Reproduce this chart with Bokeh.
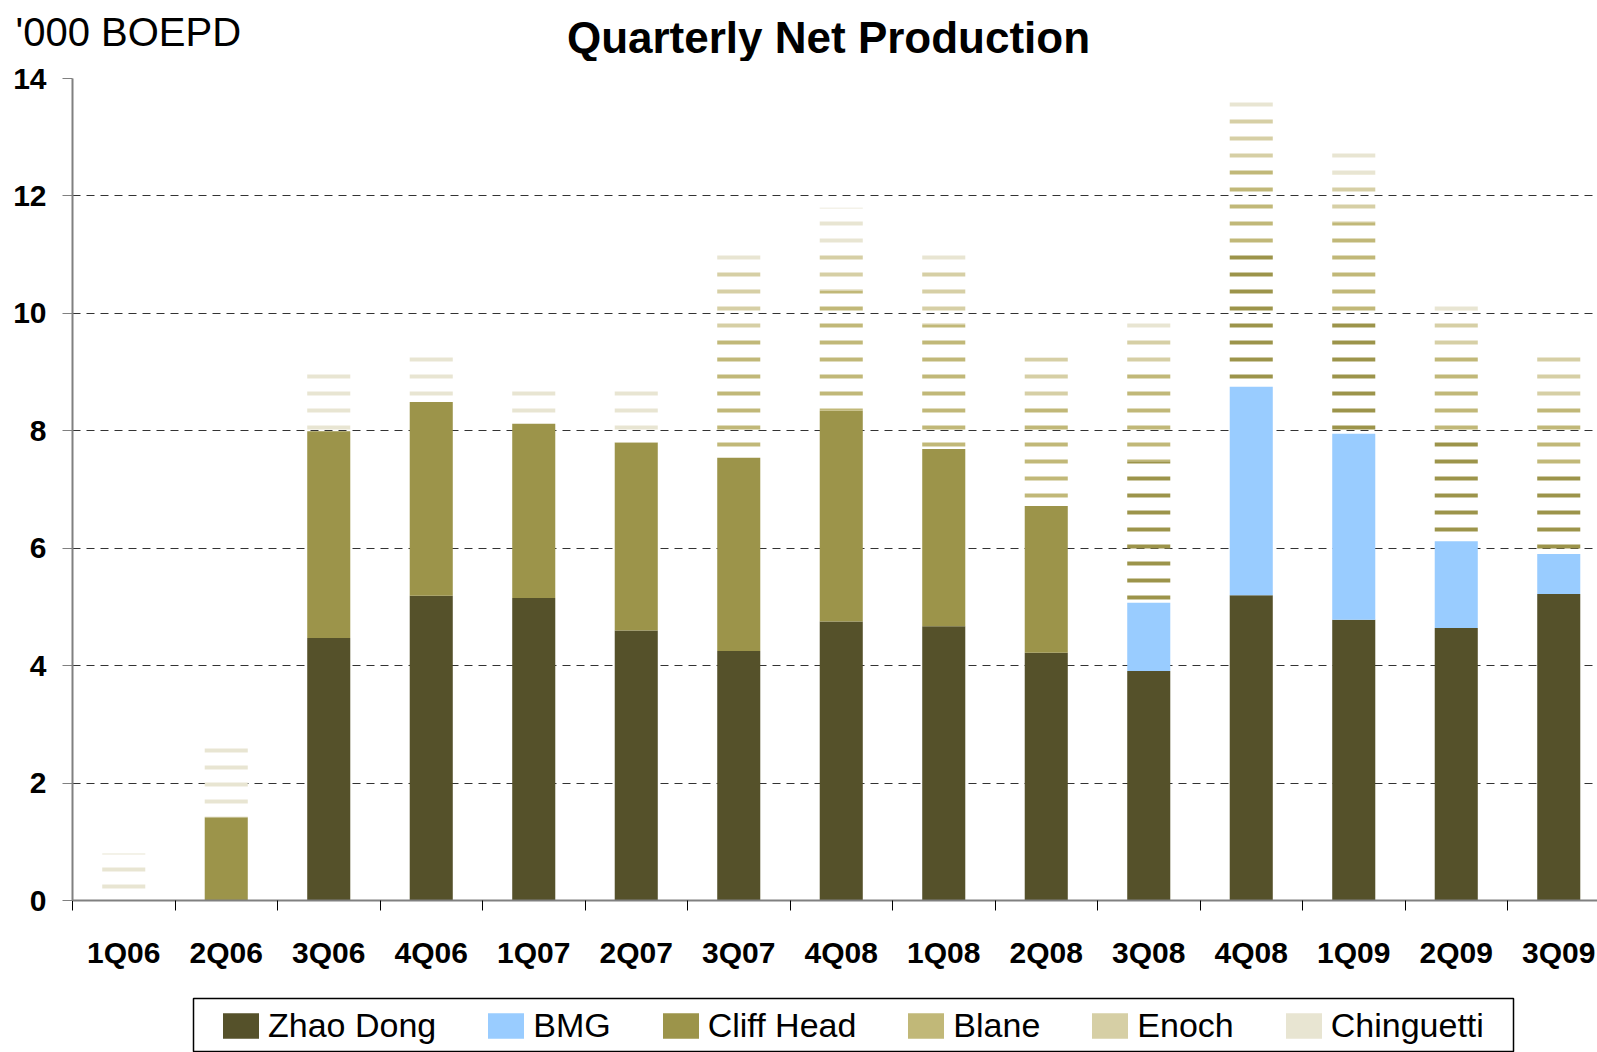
import numpy as np
from bokeh.plotting import figure
from bokeh.models import ColumnDataSource, FixedTicker, Label, Legend, LegendItem, Range1d
from bokeh.embed import file_html
from bokeh.resources import INLINE

# ---------------- data ----------------
quarters = ["1Q06", "2Q06", "3Q06", "4Q06", "1Q07", "2Q07", "3Q07", "4Q08",
            "1Q08", "2Q08", "3Q08", "4Q08", "1Q09", "2Q09", "3Q09"]
zhao_dong = [0, 0, 4.47, 5.19, 5.15, 4.60, 4.25, 4.75, 4.67, 4.22, 3.91, 5.20, 4.78, 4.64, 5.22]
bmg = [0, 0, 0, 0, 0, 0, 0, 0, 0, 0, 1.16, 3.55, 3.17, 1.48, 0.68]
cliff_head = [0, 1.42, 3.52, 3.30, 2.97, 3.20, 3.29, 3.59, 3.02, 2.50, 2.41, 2.27, 2.10, 1.73, 1.34]
cliff_head_striped = [False] * 10 + [True] * 5
blane = [0, 0, 0, 0, 0, 0, 2.15, 2.05, 2.11, 1.75, 1.69, 1.50, 1.50, 1.49, 1.24]
enoch = [0, 0, 0, 0, 0, 0, 1.16, 0.81, 0.98, 0.78, 0.54, 0.84, 0.82, 0.71, 0.79]
chinguetti = [0.80, 1.36, 1.01, 0.77, 0.61, 0.93, 0.33, 0.60, 0.22, 0.18, 0.26, 0.39, 0.36, 0.17, 0.15]
y_ticks = [0, 2, 4, 6, 8, 10, 12, 14]

names = ["Zhao Dong", "BMG", "Cliff Head", "Blane", "Enoch", "Chinguetti"]
colors = ["#55512A", "#99CCFF", "#9C944A", "#C1B878", "#D6CFA5", "#E8E5D2"]

FONT = "Liberation Sans"
TOTAL_W = 1597
HEAD_H = 61

# ---------------- header (title texts) ----------------
header = figure(width=TOTAL_W, height=HEAD_H, x_range=Range1d(0, TOTAL_W), y_range=Range1d(HEAD_H, 0),
                x_axis_type=None, y_axis_type=None, min_border=0,
                output_backend="svg", toolbar_location=None)
header.outline_line_color = None
header.add_layout(Label(x=828, y=36.5, text="Quarterly Net Production",
                        text_align="center", text_baseline="middle",
                        text_font=FONT, text_font_style="bold", text_font_size="44px",
                        text_color="black"))
header.add_layout(Label(x=15, y=31, text="'000 BOEPD",
                        text_align="left", text_baseline="middle",
                        text_font=FONT, text_font_size="40px", text_color="black"))

# ---------------- main chart ----------------
p = figure(width=TOTAL_W, height=997 - HEAD_H, x_range=(-0.5, 14.378), y_range=(0, 14),
           output_backend="svg", toolbar_location=None,
           min_border_left=72, min_border_right=0, min_border_top=78 - HEAD_H, min_border_bottom=97)
p.outline_line_color = None

x = np.arange(len(quarters))
ch = np.array(cliff_head, dtype=float)
striped = np.array(cliff_head_striped)
layers = [
    (np.array(zhao_dong, float), colors[0], False),
    (np.array(bmg, float), colors[1], False),
    (np.where(striped, 0.0, ch), colors[2], False),
    (np.where(striped, ch, 0.0), colors[2], True),
    (np.array(blane, float), colors[3], True),
    (np.array(enoch, float), colors[4], True),
    (np.array(chinguetti, float), colors[5], True),
]

bottom = np.zeros(len(quarters))
W = 0.42
for vals, col, hatched in layers:
    top = bottom + vals
    mask = vals > 0
    src = ColumnDataSource(dict(x=x[mask], bottom=bottom[mask], top=top[mask]))
    if hatched:
        p.vbar(x="x", bottom="bottom", top="top", width=W, source=src,
               fill_color=None, line_color=None,
               hatch_pattern="horizontal_line", hatch_color=col,
               hatch_weight=4, hatch_scale=17)
    else:
        p.vbar(x="x", bottom="bottom", top="top", width=W, source=src,
               fill_color=col, line_color=None)
    bottom = top

p.xaxis.ticker = FixedTicker(ticks=list(range(len(quarters))),
                             minor_ticks=[i - 0.5 for i in range(len(quarters) + 1)])
p.xaxis.major_label_overrides = {i: q for i, q in enumerate(quarters)}
p.xaxis.major_tick_out = 0
p.xaxis.major_tick_in = 0
p.xaxis.minor_tick_out = 10
p.xaxis.minor_tick_in = 0
p.xaxis.minor_tick_line_color = "black"
p.xaxis.axis_line_color = "#808080"
p.xaxis.axis_line_width = 2
p.xaxis.major_label_text_font = FONT
p.xaxis.major_label_text_font_style = "bold"
p.xaxis.major_label_text_font_size = "30px"
p.xaxis.major_label_text_color = "black"
p.xaxis.major_label_standoff = 25

p.yaxis.ticker = FixedTicker(ticks=y_ticks)
p.yaxis.major_tick_out = 10
p.yaxis.major_tick_in = 0
p.yaxis.minor_tick_line_color = None
p.yaxis.major_tick_line_color = "#808080"
p.yaxis.axis_line_color = "#808080"
p.yaxis.axis_line_width = 2
p.yaxis.major_label_text_font = FONT
p.yaxis.major_label_text_font_style = "bold"
p.yaxis.major_label_text_font_size = "30px"
p.yaxis.major_label_text_color = "black"
p.yaxis.major_label_standoff = 16

p.xgrid.visible = False
p.ygrid.ticker = FixedTicker(ticks=y_ticks)
p.ygrid.grid_line_color = "#333333"
p.ygrid.grid_line_dash = "8 6"
p.ygrid.grid_line_width = 1

# ---------------- legend box ----------------
leg = figure(width=TOTAL_W, height=55, x_range=Range1d(0, 1), y_range=Range1d(0, 1),
             x_axis_type=None, y_axis_type=None,
             min_border_left=193, min_border_right=84, min_border_top=1, min_border_bottom=0,
             output_backend="svg", toolbar_location=None)
leg.outline_line_color = "black"
leg.outline_line_width = 1.5
items = []
for name, col in zip(names, colors):
    # legend-only swatch renderer (its single bar lies outside the visible range)
    r = leg.vbar(x=[-5], top=[-5], bottom=[-6], width=0.1, fill_color=col, line_color=None)
    items.append(LegendItem(label=name, renderers=[r]))
legend = Legend(items=items, orientation="horizontal", location="center_left",
                border_line_color=None, background_fill_alpha=0,
                label_text_font=FONT, label_text_font_size="34px",
                label_text_color="black",
                glyph_width=45, glyph_height=32, label_standoff=5, spacing=47,
                padding=0, margin=25)
leg.add_layout(legend)

open("out.html", "w").write(file_html([header, p, leg], INLINE))
